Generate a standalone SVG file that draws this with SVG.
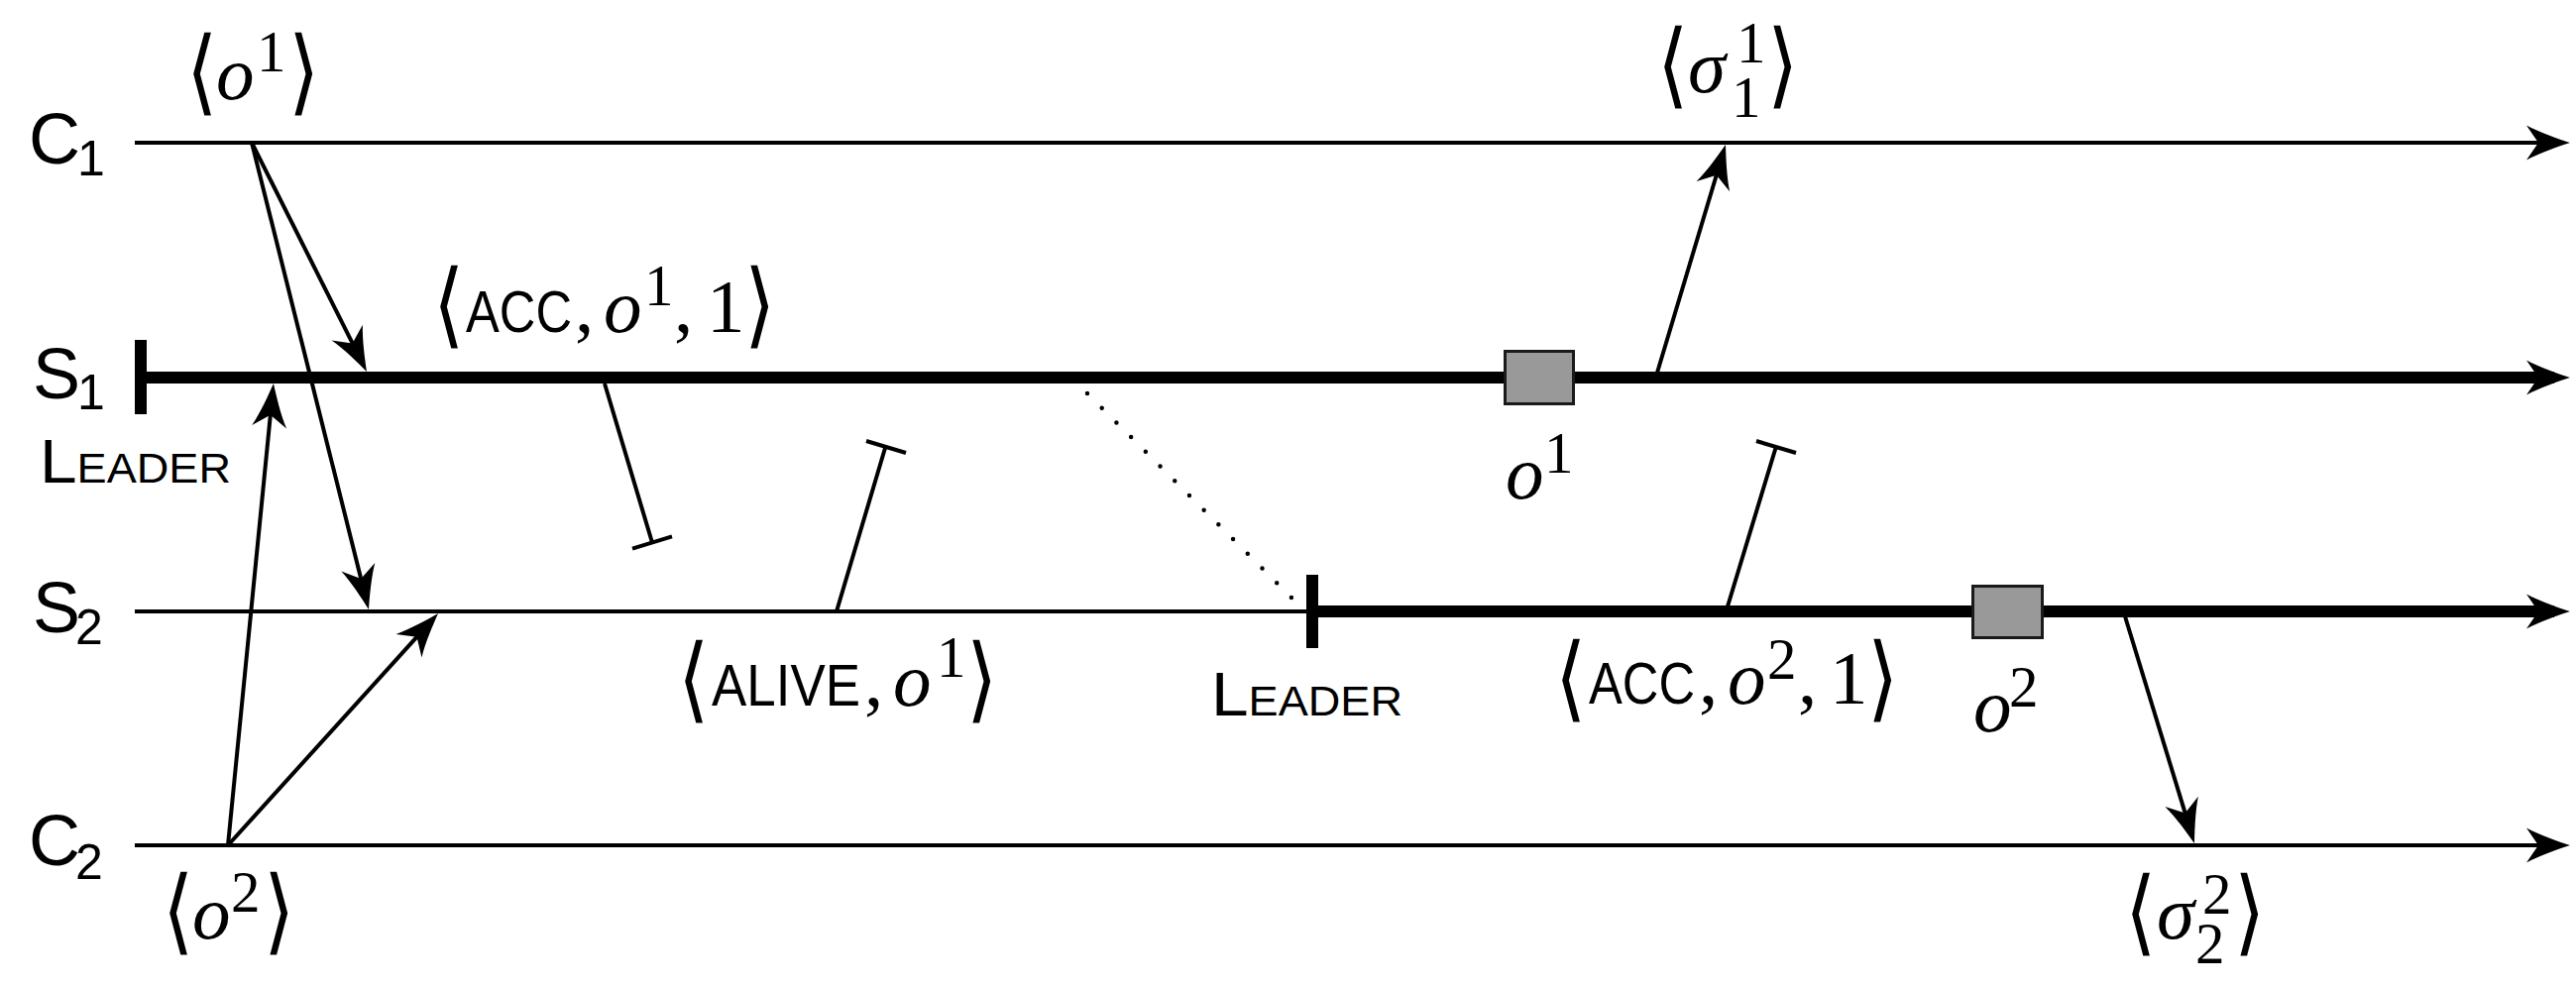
<svg xmlns="http://www.w3.org/2000/svg" width="2599" height="997" viewBox="0 0 2599 997">
<style>
.thin{stroke:#000;stroke-width:4;fill:none}
.thick{stroke:#000;stroke-width:12;fill:none}
.msg{stroke:#000;stroke-width:4;fill:none}
.dot{stroke:#000;stroke-width:4.5;fill:none;stroke-linecap:round;stroke-dasharray:0 20.8}
.bar{fill:#000}
.sf{font-family:"Liberation Sans",Arial,sans-serif;fill:#000}
.big{font-size:72px}
.sub{font-size:50px}
.mi{font-family:"Liberation Serif","Times New Roman",serif;font-style:italic;font-size:77px}
.rm{font-family:"Liberation Serif","Times New Roman",serif;font-size:77px}
.sup{font-family:"Liberation Serif","Times New Roman",serif;font-size:59px}
.br{font-family:"DejaVu Sans ExtraLight","DejaVu Sans",sans-serif;font-weight:200;font-size:80px}
.sc{font-size:59px}
.box{fill:#999;stroke:#1a1a1a;stroke-width:3}
text{fill:#000}
</style>
<defs>
<marker id="ah" markerUnits="userSpaceOnUse" markerWidth="80" markerHeight="50" viewBox="-40 -25 80 50" refX="0" refY="0" orient="auto" overflow="visible">
<path d="M16,0 C4,-4 -14,-10 -28,-17.5 L-16,0 L-28,17.5 C-14,10 4,4 16,0 Z" fill="#000"/>
</marker>
</defs>

<g id="C1">
<line class="thin" x1="136" y1="144" x2="2577" y2="144" marker-end="url(#ah)"/>
<text class="sf"><tspan class="big" x="29" y="165">C</tspan><tspan class="sub" x="78" y="177">1</tspan></text>
</g>

<g id="S1">
<line class="thick" x1="142" y1="381" x2="2577" y2="381" marker-end="url(#ah)"/>
<rect class="bar" x="136" y="343" width="12" height="75"/>
<text class="sf"><tspan class="big" x="33" y="402">S</tspan><tspan class="sub" x="78" y="413">1</tspan></text>
<text class="sf" textLength="193" lengthAdjust="spacingAndGlyphs" x="40" y="487"><tspan style="font-size:63px">L</tspan><tspan style="font-size:42px">EADER</tspan></text>
</g>

<g id="S2">
<line class="thin" x1="136" y1="617" x2="1323" y2="617"/>
<line class="thick" x1="1323" y1="617" x2="2577" y2="617" marker-end="url(#ah)"/>
<rect class="bar" x="1318" y="580" width="12" height="74"/>
<text class="sf"><tspan class="big" x="33" y="638">S</tspan><tspan class="sub" x="76" y="650">2</tspan></text>
<text class="sf" textLength="193" lengthAdjust="spacingAndGlyphs" x="1222" y="722"><tspan style="font-size:63px">L</tspan><tspan style="font-size:42px">EADER</tspan></text>
</g>

<g id="C2">
<line class="thin" x1="136" y1="853" x2="2577" y2="853" marker-end="url(#ah)"/>
<text class="sf"><tspan class="big" x="29" y="873">C</tspan><tspan class="sub" x="76" y="887">2</tspan></text>
</g>

<g id="o1-box">
<rect class="box" x="1518.5" y="354.5" width="69" height="53"/>
<text><tspan class="mi" x="1519" y="503">o</tspan><tspan class="sup" x="1558" y="477">1</tspan></text>
</g>

<g id="o2-box">
<rect class="box" x="1990.5" y="591.5" width="70" height="52"/>
<text><tspan class="mi" x="1991" y="738">o</tspan><tspan class="sup" x="2027" y="713">2</tspan></text>
</g>

<g id="connectors">
<line class="msg" x1="254" y1="144" x2="362.8" y2="360.7" marker-end="url(#ah)"/>
<line class="msg" x1="254" y1="144" x2="368.1" y2="599.5" marker-end="url(#ah)"/>
<line class="msg" x1="230" y1="853" x2="274.4" y2="402.9" marker-end="url(#ah)"/>
<line class="msg" x1="230" y1="853" x2="431.3" y2="630.9" marker-end="url(#ah)"/>
<line class="msg" x1="1672" y1="376" x2="1736.4" y2="161.3" marker-end="url(#ah)"/>
<line class="msg" x1="2144" y1="622" x2="2209.3" y2="835.7" marker-end="url(#ah)"/>
<path class="msg" d="M610,387 L658,547.5 M638,553.6 L678,541.4"/>
<path class="msg" d="M844,617 L893.5,450.5 M874,445 L914,457"/>
<path class="msg" d="M1743,612 L1792,450.5 M1772,445 L1812,457"/>
<path class="dot" d="M1097,397 L1303,603"/>
</g>

<g id="labels">
<g id="lbl-o1">
<text class="br" transform="translate(188,104) scale(1,1.17)">⟨</text>
<text><tspan class="mi" x="218" y="100">o</tspan><tspan class="sup" x="259" y="72">1</tspan></text>
<text class="br" transform="translate(291,104) scale(1,1.17)">⟩</text>
</g>
<g id="lbl-o2">
<text class="br" transform="translate(164,951) scale(1,1.17)">⟨</text>
<text><tspan class="mi" x="194" y="947">o</tspan><tspan class="sup" x="233" y="920">2</tspan></text>
<text class="br" transform="translate(266,951) scale(1,1.17)">⟩</text>
</g>
<g id="lbl-acc1">
<text class="br" transform="translate(437,339) scale(1,1.17)">⟨</text>
<text><tspan class="sf sc" x="470" y="335" textLength="107" lengthAdjust="spacingAndGlyphs">ACC</tspan><tspan class="rm" x="580" y="335">,</tspan><tspan class="mi" x="609" y="335">o</tspan><tspan class="sup" x="650" y="308">1</tspan><tspan class="rm" x="680" y="335">,</tspan><tspan class="rm" x="713" y="335">1</tspan></text>
<text class="br" transform="translate(751,339) scale(1,1.17)">⟩</text>
</g>
<g id="lbl-alive">
<text class="br" transform="translate(684,717) scale(1,1.17)">⟨</text>
<text><tspan class="sf sc" x="718" y="712" textLength="150" lengthAdjust="spacingAndGlyphs">ALIVE</tspan><tspan class="rm" x="872" y="712">,</tspan><tspan class="mi" x="901" y="712">o</tspan><tspan class="sup" x="945" y="683">1</tspan></text>
<text class="br" transform="translate(975,717) scale(1,1.17)">⟩</text>
</g>
<g id="lbl-acc2">
<text class="br" transform="translate(1569,716) scale(1,1.17)">⟨</text>
<text><tspan class="sf sc" x="1603" y="710" textLength="107" lengthAdjust="spacingAndGlyphs">ACC</tspan><tspan class="rm" x="1714" y="710">,</tspan><tspan class="mi" x="1743" y="710">o</tspan><tspan class="sup" x="1783" y="685">2</tspan><tspan class="rm" x="1814" y="710">,</tspan><tspan class="rm" x="1846" y="710">1</tspan></text>
<text class="br" transform="translate(1884,716) scale(1,1.17)">⟩</text>
</g>
<g id="lbl-sigma1">
<text class="br" transform="translate(1672,97) scale(1,1.17)">⟨</text>
<text><tspan class="mi" x="1703" y="93">σ</tspan><tspan class="sup" x="1752" y="63">1</tspan><tspan class="sup" x="1747" y="118">1</tspan></text>
<text class="br" transform="translate(1783,97) scale(1,1.17)">⟩</text>
</g>
<g id="lbl-sigma2">
<text class="br" transform="translate(2144,952) scale(1,1.17)">⟨</text>
<text><tspan class="mi" x="2176" y="947">σ</tspan><tspan class="sup" x="2222" y="922">2</tspan><tspan class="sup" x="2215" y="972">2</tspan></text>
<text class="br" transform="translate(2254,952) scale(1,1.17)">⟩</text>
</g>
</g>
</svg>
